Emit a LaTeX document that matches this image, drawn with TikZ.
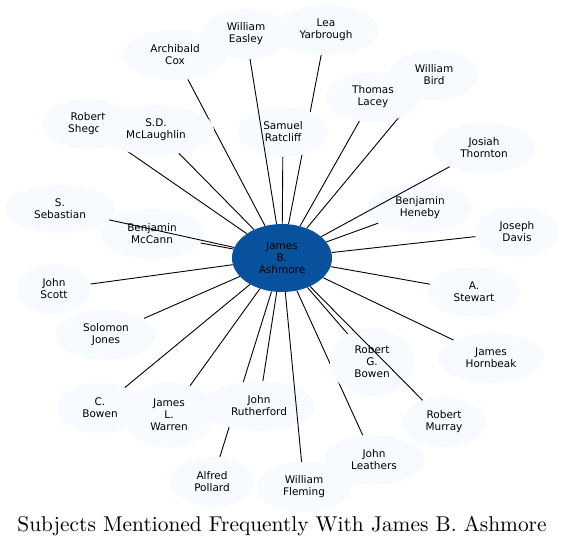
\documentclass[tikz,border=0pt]{standalone}
\usepackage{fontspec}
\newfontfamily\dv{DejaVu Sans}
\newfontfamily\tf{lmroman10-regular}[Extension=.otf]
\usetikzlibrary{shapes.geometric}
\definecolor{pale}{HTML}{F7FBFF}
\definecolor{hub}{HTML}{08519C}
\pgfdeclarelayer{bg}
\pgfdeclarelayer{fg}
\pgfsetlayers{bg,main,fg}
\tikzset{
  person/.style={ellipse, fill=pale, draw=none, inner sep=0pt, align=center,
    font=\dv\fontsize{10.5}{12}\selectfont, text=black},
  hubnode/.style={person, fill=hub},
  edge/.style={draw=black, line width=0.9pt},
}
\newcommand{\pnode}[6]{\node[#1, minimum width=#4*2pt, minimum height=#5*2pt] (#2) at (#3) {#6};}
\begin{document}
\begin{tikzpicture}[x=1pt,y=-1pt]
\useasboundingbox (0,0) rectangle (564,547);
\pnode{hubnode}{c}{282,258}{50}{34}{James\\B.\\Ashmore}
\pnode{person}{cox}{175,55}{52}{25}{Archibald\\Cox}
\pnode{person}{easley}{246,34}{43}{25}{William\\Easley}
\pnode{person}{yarb}{326,30}{53}{25}{Lea\\Yarbrough}
\pnode{person}{shegog}{88,124}{46}{25}{Robert\\Shegog}
\pnode{person}{mcl}{156,130}{58}{25}{S.D.\\McLaughlin}
\pnode{person}{ratcliff}{283,132}{45}{25}{Samuel\\Ratcliff}
\pnode{person}{lacey}{373,97}{47}{25}{Thomas\\Lacey}
\pnode{person}{bird}{434,75}{44}{25}{William\\Bird}
\pnode{person}{thornton}{484,148}{51}{25}{Josiah\\Thornton}
\pnode{person}{sebastian}{60,209}{55}{24}{S.\\Sebastian}
\pnode{person}{mccann}{152,234}{52}{25}{Benjamin\\McCann}
\pnode{person}{heneby}{420,208}{52}{25}{Benjamin\\Heneby}
\pnode{person}{davis}{517,232}{42}{25}{Joseph\\Davis}
\pnode{person}{scott}{54,289}{37}{25}{John\\Scott}
\pnode{person}{stewart}{474,292}{46}{25}{A.\\Stewart}
\pnode{person}{jones}{106,335}{50}{25}{Solomon\\Jones}
\pnode{person}{hornbeak}{491,358}{53}{25}{James\\Hornbeak}
\pnode{person}{rgbowen}{372,362}{42}{34}{Robert\\G.\\Bowen}
\pnode{person}{cbowen}{100,408}{42}{25}{C.\\Bowen}
\pnode{person}{warren}{169,415}{44}{33}{James\\L.\\Warren}
\pnode{person}{ruth}{259,406}{56}{25}{John\\Rutherford}
\pnode{person}{murray}{444,422}{42}{25}{Robert\\Murray}
\pnode{person}{leathers}{374,460}{50}{25}{John\\Leathers}
\pnode{person}{pollard}{212,482}{42}{25}{Alfred\\Pollard}
\pnode{person}{fleming}{304,487}{47}{25}{William\\Fleming}
\begin{pgfonlayer}{bg}
\foreach \t in {cox,yarb,shegog,mcl,ratcliff,lacey,bird,mccann,heneby,davis,scott,stewart,jones,hornbeak,rgbowen,cbowen,warren,ruth,leathers,pollard}
  \draw[edge] (c) -- (\t);
\end{pgfonlayer}
\begin{pgfonlayer}{fg}
\foreach \t in {easley,thornton,sebastian,murray,fleming}
  \draw[edge] (c) -- (\t);
\end{pgfonlayer}
\node[anchor=base, font=\tf\fontsize{21.4}{24}\selectfont] (title) at (282,531.5) {Subjects Mentioned Frequently With James B. Ashmore};
\end{tikzpicture}
\end{document}
